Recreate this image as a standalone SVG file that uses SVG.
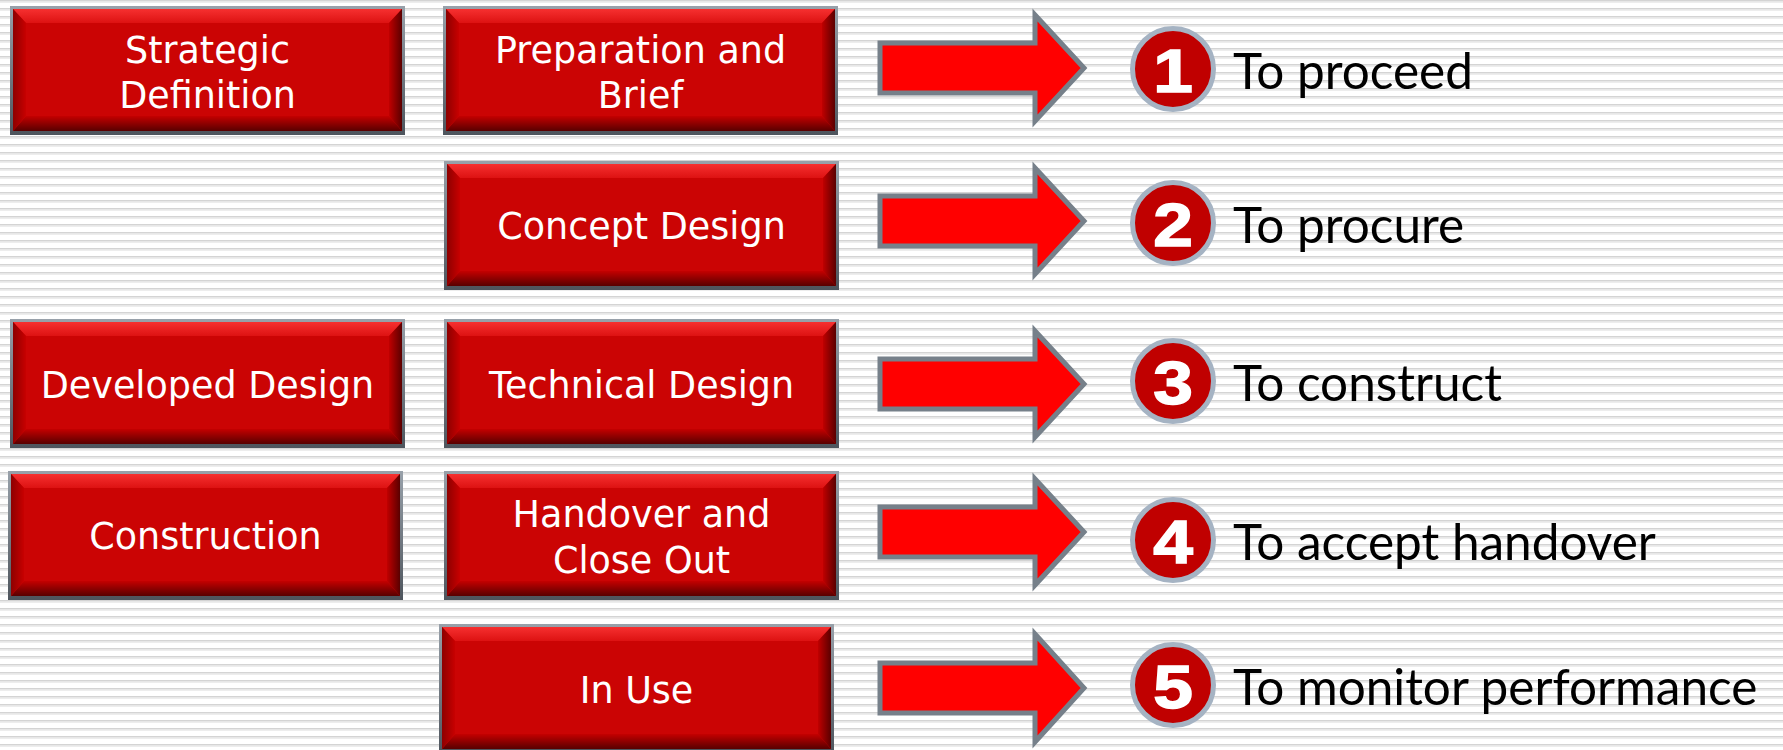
<svg xmlns="http://www.w3.org/2000/svg" xmlns:xlink="http://www.w3.org/1999/xlink" width="1783" height="750" viewBox="0 0 1783 750">
  <style>
    .boxtext { font-family: "DejaVu Sans", Verdana, sans-serif; font-size: 36.5px; fill: #FFFFFF; text-anchor: middle; }
    .label { font-family: Lato, "Open Sans", sans-serif; font-size: 49.5px; fill: #000000; }
    .num { font-family: "Liberation Sans", Arial, sans-serif; font-weight: bold; font-size: 62px; fill: #FFFFFF; stroke: #FFFFFF; stroke-width: 1.5; text-anchor: middle; }
    .arrow { fill: #FF0000; stroke: #76808A; stroke-width: 5; stroke-linejoin: miter; }
    .badge { fill: #C00000; stroke: #A5B3C3; stroke-width: 5; }
  </style>
  <defs>
    <pattern id="stripes" patternUnits="userSpaceOnUse" width="16" height="8">
      <rect x="0" y="0" width="16" height="8" fill="#FFFFFF"/>
      <rect x="0" y="0" width="16" height="1.5" fill="#D4D4D4"/>
      <rect x="0" y="1.5" width="16" height="1.2" fill="#E6E6E6"/>
    </pattern>
    <linearGradient id="gBorder" x1="0" y1="0" x2="0" y2="1">
      <stop offset="0" stop-color="#98A1AA"/>
      <stop offset="1" stop-color="#4E555D"/>
    </linearGradient>
    <linearGradient id="gTop" x1="0" y1="0" x2="0" y2="1">
      <stop offset="0" stop-color="#F63030"/>
      <stop offset="1" stop-color="#DD1212"/>
    </linearGradient>
    <linearGradient id="gBot" x1="0" y1="0" x2="0" y2="1">
      <stop offset="0" stop-color="#C40000"/>
      <stop offset="1" stop-color="#580000"/>
    </linearGradient>
    <linearGradient id="gRight" x1="0" y1="0" x2="1" y2="0">
      <stop offset="0" stop-color="#C00000"/>
      <stop offset="1" stop-color="#5A0000"/>
    </linearGradient>
    <linearGradient id="gLeft" x1="0" y1="0" x2="1" y2="0">
      <stop offset="0" stop-color="#8E0000"/>
      <stop offset="1" stop-color="#C80000"/>
    </linearGradient>
    <g id="box">
      <rect x="0" y="0" width="395" height="129" fill="url(#gBorder)"/>
      <rect x="3" y="3" width="389" height="122" fill="#CB0404"/>
      <polygon points="3,3 392,3 379,17 16,17" fill="url(#gTop)"/>
      <polygon points="3,125 392,125 379,110 16,110" fill="url(#gBot)"/>
      <polygon points="3,3 16,17 16,110 3,125" fill="url(#gLeft)"/>
      <polygon points="392,3 379,17 379,110 392,125" fill="url(#gRight)"/>
    </g>
  </defs>

  <rect id="background" x="0" y="0" width="1783" height="750" fill="url(#stripes)"/>

  <g id="node-strategic-definition">
    <use xlink:href="#box" href="#box" x="10" y="6"/>
    <text class="boxtext" x="207.5" y="63">Strategic</text>
    <text class="boxtext" x="207.5" y="108">Definition</text>
  </g>
  <g id="node-preparation-and-brief">
    <use xlink:href="#box" href="#box" x="443" y="6"/>
    <text class="boxtext" x="640.5" y="63">Preparation and</text>
    <text class="boxtext" x="640.5" y="108">Brief</text>
  </g>
  <g id="node-concept-design">
    <use xlink:href="#box" href="#box" x="444" y="161"/>
    <text class="boxtext" x="641.5" y="239">Concept Design</text>
  </g>
  <g id="node-developed-design">
    <use xlink:href="#box" href="#box" x="10" y="319"/>
    <text class="boxtext" x="207.5" y="398">Developed Design</text>
  </g>
  <g id="node-technical-design">
    <use xlink:href="#box" href="#box" x="444" y="319"/>
    <text class="boxtext" x="641.5" y="398">Technical Design</text>
  </g>
  <g id="node-construction">
    <use xlink:href="#box" href="#box" x="8" y="471"/>
    <text class="boxtext" x="205.5" y="549">Construction</text>
  </g>
  <g id="node-handover-and-close-out">
    <use xlink:href="#box" href="#box" x="444" y="471"/>
    <text class="boxtext" x="641.5" y="527">Handover and</text>
    <text class="boxtext" x="641.5" y="573">Close Out</text>
  </g>
  <g id="node-in-use">
    <use xlink:href="#box" href="#box" x="439" y="624"/>
    <text class="boxtext" x="636.5" y="703">In Use</text>
  </g>

  <g id="connectors">
    <path class="arrow" d="M880,43 H1035 V15 L1084,68 L1035,121 V93 H880 Z"/>
    <path class="arrow" d="M880,196 H1035 V168 L1084,221 L1035,274 V246 H880 Z"/>
    <path class="arrow" d="M880,359 H1035 V331 L1084,384 L1035,437 V409 H880 Z"/>
    <path class="arrow" d="M880,507 H1035 V479 L1084,532 L1035,585 V557 H880 Z"/>
    <path class="arrow" d="M880,663 H1035 V634 L1084,688 L1035,742 V713 H880 Z"/>
  </g>

  <g id="node-gate-1">
    <circle class="badge" cx="1173" cy="69" r="40.5"/>
    <text class="num" transform="translate(1173,92) scale(1.15,1)" x="0" y="0">1</text>
    <text class="label" x="1233" y="89">To proceed</text>
  </g>
  <g id="node-gate-2">
    <circle class="badge" cx="1173" cy="223" r="40.5"/>
    <text class="num" transform="translate(1173,246) scale(1.15,1)" x="0" y="0">2</text>
    <text class="label" x="1233" y="243">To procure</text>
  </g>
  <g id="node-gate-3">
    <circle class="badge" cx="1173" cy="381" r="40.5"/>
    <text class="num" transform="translate(1173,404) scale(1.15,1)" x="0" y="0">3</text>
    <text class="label" x="1233" y="401">To construct</text>
  </g>
  <g id="node-gate-4">
    <circle class="badge" cx="1173" cy="540" r="40.5"/>
    <text class="num" transform="translate(1173,563) scale(1.15,1)" x="0" y="0">4</text>
    <text class="label" x="1233" y="560">To accept handover</text>
  </g>
  <g id="node-gate-5">
    <circle class="badge" cx="1173" cy="685" r="40.5"/>
    <text class="num" transform="translate(1173,708) scale(1.15,1)" x="0" y="0">5</text>
    <text class="label" x="1233" y="705">To monitor performance</text>
  </g>
</svg>
